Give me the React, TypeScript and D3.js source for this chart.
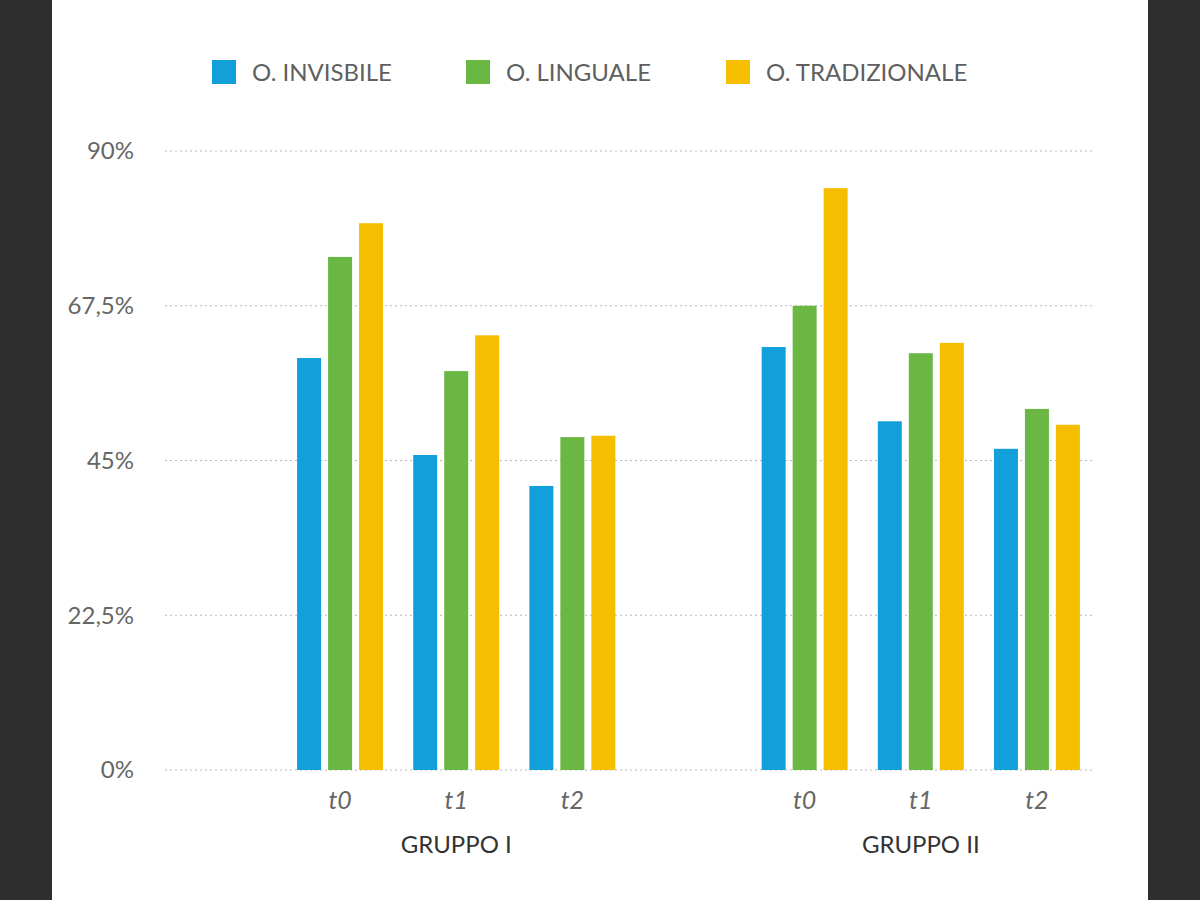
import React from "react";
import * as d3 from "d3";

const series = ["O. INVISBILE", "O. LINGUALE", "O. TRADIZIONALE"];
const colors = ["#13a0da", "#6ab744", "#f6be00"];
const slots = ["G1-t0", "G1-t1", "G1-t2", "gap", "G2-t0", "G2-t1", "G2-t2"];
const timeLabels = ["t0", "t1", "t2"];
const groups = ["GRUPPO I", "GRUPPO II"];
const invisibile = [59.9, 45.8, 41.3, 61.5, 50.7, 46.7];
const linguale = [74.6, 58.0, 48.4, 67.5, 60.6, 52.5];
const tradizionale = [79.5, 63.2, 48.6, 84.6, 62.1, 50.2];
const yTicks = [0, 22.5, 45, 67.5, 90];
const yTickLabels = ["0%", "22,5%", "45%", "67,5%", "90%"];

const dataSlots = slots.filter((s) => s !== "gap");
const values = [invisibile, linguale, tradizionale];

const FONT = "Lato, 'Open Sans', sans-serif";

export default function App() {
  const y = d3.scaleLinear().domain([0, 90]).range([770, 151]);
  const x0 = d3.scaleBand().domain(slots).range([282, 1095]);
  const x1 = d3
    .scaleBand()
    .domain(series)
    .range([-46.5, 46.5])
    .paddingInner(7 / 31)
    .paddingOuter(0.113);
  const center = (s: string) => (x0(s) as number) + x0.bandwidth() / 2;

  const legendX = [212, 466, 726];

  return (
    <svg
      width={1200}
      height={900}
      style={{ position: "absolute", left: 0, top: 0 }}
      fontFamily={FONT}
      fontWeight={400}
    >
      <rect x={0} y={0} width={1200} height={900} fill="#2e2e2e" />
      <rect x={52} y={0} width={1096} height={900} fill="#ffffff" />

      {/* legend */}
      {series.map((s, i) => (
        <g key={s}>
          <rect x={legendX[i]} y={60} width={24} height={24} fill={colors[i]} />
          <text x={legendX[i] + 40} y={81} fontSize={24} fill="#5f5f5f">
            {s}
          </text>
        </g>
      ))}

      {/* grid */}
      {yTicks.map((t, i) => (
        <g key={t}>
          <line
            x1={165}
            x2={1095}
            y1={y(t)}
            y2={y(t)}
            stroke="#b8b8b8"
            strokeWidth={1}
            strokeDasharray="2,3"
          />
          <text
            x={134}
            y={y(t)}
            dy="0.35em"
            textAnchor="end"
            fontSize={24}
            fill="#666"
          >
            {yTickLabels[i]}
          </text>
        </g>
      ))}

      {/* bars */}
      {dataSlots.map((slot, j) =>
        series.map((s, i) => {
          const v = values[i][j];
          return (
            <rect
              key={slot + s}
              x={center(slot) + (x1(s) as number)}
              y={y(v)}
              width={x1.bandwidth()}
              height={y(0) - y(v)}
              fill={colors[i]}
            />
          );
        })
      )}

      {/* x labels */}
      {dataSlots.map((slot, j) => (
        <text
          key={slot}
          x={center(slot)}
          y={809}
          textAnchor="middle"
          fontSize={25}
          fontStyle="italic"
          fill="#666"
        >
          {timeLabels[j % 3]}
        </text>
      ))}
      {groups.map((g, i) => (
        <text
          key={g}
          x={center(dataSlots[i * 3 + 1])}
          y={853}
          textAnchor="middle"
          fontSize={24}
          fill="#333"
        >
          {g}
        </text>
      ))}
    </svg>
  );
}
